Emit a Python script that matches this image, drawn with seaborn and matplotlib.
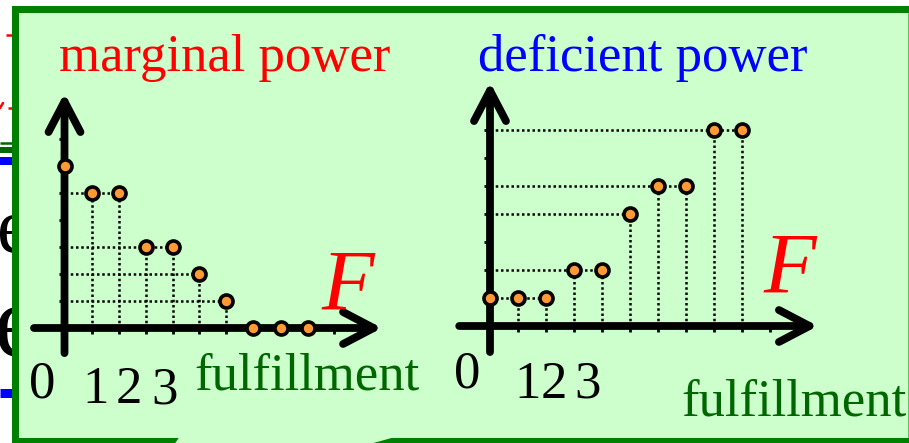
import matplotlib
matplotlib.use("Agg")
import matplotlib.pyplot as plt
import seaborn as sns
from matplotlib.patches import FancyArrowPatch, PathPatch, ArrowStyle
from matplotlib.path import Path
from matplotlib.lines import Line2D

# ---- data -------------------------------------------------------------
fulfillment = [0, 1, 2, 3, 4, 5, 6, 7, 8, 9]
marginal_power = [6, 5, 5, 3, 3, 2, 1, 0, 0, 0]
deficient_power = [1, 1, 1, 2, 2, 4, 5, 5, 7, 7]
x_ticks = [1, 2, 3, 4, 5, 6, 7, 8, 9, 10]
y_ticks = [1, 2, 3, 4, 5, 6, 7]
tick_digits = ["0", "1", "2", "3"]
left_title = "marginal power"
right_title = "deficient power"
x_name = "fulfillment"
axis_symbol = "F"

# ---- style ------------------------------------------------------------
sns.set_theme(style="white")
plt.rcParams["font.family"] = ["Liberation Serif", "DejaVu Serif"]

W, H, DPI = 909, 443, 100
ORANGE = "#ff9933"
BOX_FILL = "#ccffcc"
BOX_EDGE = "#008000"
DARK_GREEN = "#006600"
FS = 38

fig = plt.figure(figsize=(W / DPI, H / DPI), dpi=DPI)
fig.patch.set_facecolor("white")


def fx(x):
    return x / W


def fy(y):
    return 1 - y / H


# ---- slide content partly hidden behind the callout box ----------------
def bg_line(x0, x1, y, lw_px, color):
    fig.add_artist(Line2D([fx(x0), fx(x1)], [fy(y), fy(y)], lw=lw_px * 72 / DPI,
                          color=color, solid_capstyle="butt", zorder=-3))


bg_line(0, 14, 143, 2.5, "#006600")
bg_line(0, 14, 149.5, 6, "#006600")
bg_line(0, 14, 161, 8, "#0000ff")
bg_line(0, 14, 393, 9, "#0000ff")
bg_line(6, 14, 34.5, 2.5, "#ff0000")
bg_line(8, 14, 108, 2.5, "#ff0000")
fig.add_artist(Line2D([fx(0), fx(3)], [fy(108), fy(103)], lw=1.8, color="#ff0000", zorder=-3))
fig.text(fx(-3), fy(252), "e", fontsize=56, color="black", ha="left", va="baseline", zorder=-3)
fig.text(fx(-6), fy(356), "e", fontsize=75, color="black", ha="left", va="baseline", zorder=-3)

# ---- callout box with a pointer running off the bottom edge -----------
box_px = [(15.5, 9.5), (912, 9.5), (912, 441.5), (392, 441.5), (119, 517),
          (172, 441.5), (15.5, 441.5), (15.5, 9.5)]
codes = [Path.MOVETO] + [Path.LINETO] * (len(box_px) - 2) + [Path.CLOSEPOLY]
box = PathPatch(Path([(fx(x), fy(y)) for x, y in box_px], codes),
                transform=fig.transFigure, facecolor=BOX_FILL, edgecolor=BOX_EDGE,
                lw=7 * 72 / DPI, joinstyle="miter", zorder=-2)
fig.add_artist(box)


# ---- panels -------------------------------------------------------------
def make_panel(ox, oy, unit, xlim, ylim):
    left = ox + xlim[0] * unit
    width = (xlim[1] - xlim[0]) * unit
    bottom = oy - ylim[0] * unit
    height = (ylim[1] - ylim[0]) * unit
    ax = fig.add_axes([fx(left), fy(bottom), width / W, height / H])
    ax.set_xlim(*xlim)
    ax.set_ylim(*ylim)
    ax.set_facecolor("none")
    for side in ["top", "right", "left", "bottom"]:
        ax.spines[side].set_visible(False)
    ax.spines["left"].set_position(("data", 0))
    ax.spines["bottom"].set_position(("data", 0))
    ax.set_xticks(x_ticks)
    ax.set_yticks(y_ticks)
    ax.tick_params(direction="out", length=4.6, width=2.0, color="black",
                   bottom=True, left=True, labelbottom=False, labelleft=False)
    ax.set_xlabel("")
    ax.set_ylabel("")
    style = ArrowStyle("->", head_length=22, head_width=11.5)
    for start, end in [((xlim[0], 0), (xlim[1], 0)), ((0, ylim[0]), (0, ylim[1]))]:
        arr = FancyArrowPatch(start, end, transform=ax.transData, arrowstyle=style,
                              mutation_scale=1, lw=5.6, color="black",
                              shrinkA=0, shrinkB=0, capstyle="round",
                              joinstyle="round", clip_on=False, zorder=3)
        ax.add_patch(arr)
    return ax


def draw_steps(ax, xs, ys):
    dot = dict(colors="black", linestyles=(0, (1, 1.1)), linewidth=1.8, zorder=2)
    vx = [x for x, y in zip(xs, ys) if x > 0 and y > 0]
    vy = [y for x, y in zip(xs, ys) if x > 0 and y > 0]
    ax.vlines(vx, 0, vy, **dot)
    for level in sorted(set(ys)):
        reach = max(x for x, y in zip(xs, ys) if y == level)
        if level > 0 and reach > 0:
            ax.hlines(level, 0, reach, **dot)
    sns.scatterplot(x=xs, y=ys, ax=ax, s=88, color=ORANGE, edgecolor="black",
                    linewidth=2.6, zorder=5, clip_on=False, legend=False)


ax_l = make_panel(64.5, 328, 27, (-1.13, 11.76), (-0.93, 8.7))
draw_steps(ax_l, fulfillment, marginal_power)

ax_r = make_panel(490, 326, 28, (-1.1, 11.71), (-0.93, 8.71))
draw_steps(ax_r, fulfillment, deficient_power)

# ---- labels -------------------------------------------------------------
fig.text(fx(59), fy(71), left_title, fontsize=FS, color="#ff0000", ha="left", va="baseline")
fig.text(fx(478), fy(71), right_title, fontsize=FS, color="#0000ff", ha="left", va="baseline")
fig.text(fx(194), fy(390), x_name, fontsize=FS, color=DARK_GREEN, ha="left", va="baseline")
fig.text(fx(681), fy(415), x_name, fontsize=FS, color=DARK_GREEN, ha="left", va="baseline")
fig.text(fx(348), fy(310), axis_symbol, fontsize=62, style="italic", color="#ff0000",
         ha="center", va="baseline")
fig.text(fx(790), fy(293), axis_symbol, fontsize=62, style="italic", color="#ff0000",
         ha="center", va="baseline")

left_digit_x = [42.5, 95.5, 128.5, 165]
left_digit_y = [397, 403, 403, 403]
right_digit_x = [467, 527.5, 553.5, 587.5]
right_digit_y = [387, 398, 398, 398]
for d, x, y in zip(tick_digits, left_digit_x, left_digit_y):
    fig.text(fx(x), fy(y), d, fontsize=FS, color="black", ha="center", va="baseline")
for d, x, y in zip(tick_digits, right_digit_x, right_digit_y):
    fig.text(fx(x), fy(y), d, fontsize=FS, color="black", ha="center", va="baseline")

fig.savefig("out.png", dpi=DPI, facecolor="white")
